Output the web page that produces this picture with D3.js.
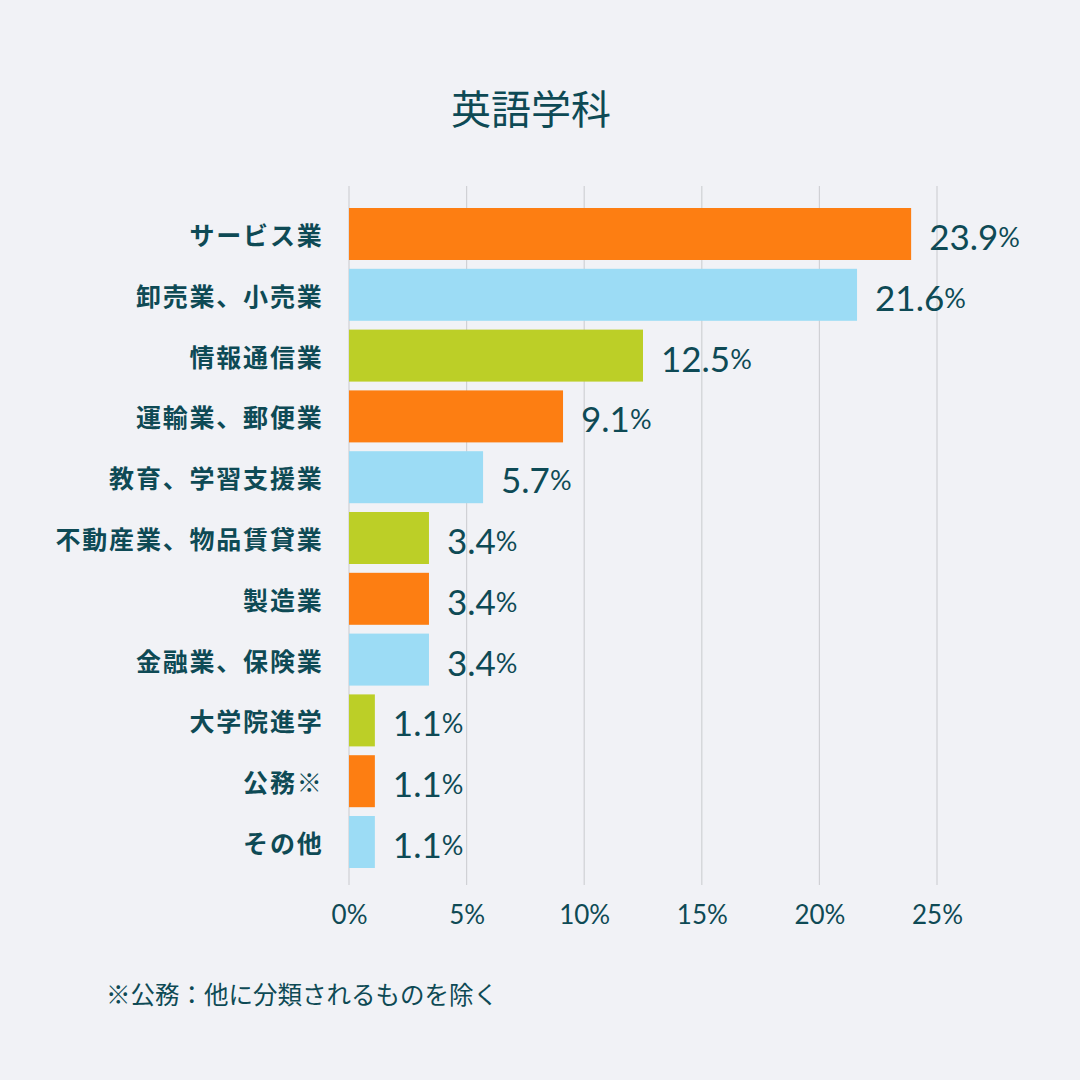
<!DOCTYPE html>
<html><head><meta charset="utf-8">
<script src="https://cdn.jsdelivr.net/npm/d3@7"></script>
<style>
html,body{margin:0;padding:0;background:#f1f2f6;}
svg{display:block;}
</style></head>
<body>
<svg id="chart" width="1080" height="1080"></svg>
<script>
const title = "英語学科";
const categories = ["サービス業","卸売業、小売業","情報通信業","運輸業、郵便業","教育、学習支援業","不動産業、物品賃貸業","製造業","金融業、保険業","大学院進学","公務※","その他"];
const values = [23.9,21.6,12.5,9.1,5.7,3.4,3.4,3.4,1.1,1.1,1.1];
const barColors = ["#fd7e12","#9cdcf5","#bccf27"];
const ticks = [0,5,10,15,20,25];
const footnote = "※公務：他に分類されるものを除く";

const textColor = "#0e4a55";
const font = "'Noto Sans CJK JP','Noto Sans',sans-serif";
const numFont = "Lato,'Noto Sans',sans-serif";
const svg = d3.select("#chart");
svg.append("rect").attr("width",1080).attr("height",1080).attr("fill","#f1f2f6");

const x = d3.scaleLinear().domain([0,25]).range([349,937]);
const y = d3.scaleBand().domain(categories).range([203.6,872.4]).paddingInner(0.145).paddingOuter(0.0725);

// grid
svg.append("g").selectAll("line").data(ticks).join("line")
  .attr("x1",d=>x(d)).attr("x2",d=>x(d)).attr("y1",186).attr("y2",885)
  .attr("stroke","#d0d1d5").attr("stroke-width",1.2);

// axis labels
const xAxis = d3.axisBottom(x).tickValues(ticks).tickFormat(d=>d+"%").tickSize(0).tickPadding(0);
const ax = svg.append("g").attr("transform","translate(0,914)").call(xAxis);
ax.select(".domain").remove();
ax.selectAll("text").attr("fill",textColor).attr("font-size",26).attr("font-family",numFont)
  .attr("dy","0").attr("dominant-baseline","central");

// bars
svg.append("g").selectAll("rect").data(values).join("rect")
  .attr("x",x(0)).attr("y",(d,i)=>y(categories[i]))
  .attr("width",d=>x(d)-x(0)).attr("height",y.bandwidth())
  .attr("fill",(d,i)=>barColors[i%3]);

// value labels
svg.append("g").selectAll("text").data(values).join("text")
  .attr("x",d=>x(d)+18).attr("y",(d,i)=>y(categories[i])+y.bandwidth()/2+2)
  .attr("dominant-baseline","central")
  .attr("fill",textColor).attr("font-family",numFont).attr("font-weight",400)
  .each(function(d){
    const t=d3.select(this);
    t.append("tspan").attr("font-size",35).text(d.toFixed(1));
    t.append("tspan").attr("font-size",27).text("%");
  });

// category labels
svg.append("g").selectAll("text").data(categories).join("text")
  .attr("x",323.5).attr("y",d=>y(d)+y.bandwidth()/2)
  .attr("dominant-baseline","central").attr("text-anchor","end")
  .attr("fill",textColor).attr("font-family",font).attr("font-size",25).attr("font-weight","bold")
  .attr("letter-spacing",1.8)
  .text(d=>d);

// title
svg.append("text").attr("x",531).attr("y",107).attr("text-anchor","middle")
  .attr("dominant-baseline","central").attr("fill",textColor)
  .attr("font-family",font).attr("font-size",40).text(title);

// footnote
svg.append("text").attr("x",106).attr("y",993).attr("dominant-baseline","central")
  .attr("fill",textColor).attr("font-family",font).attr("font-size",24.5).text(footnote);
</script>
</body></html>
